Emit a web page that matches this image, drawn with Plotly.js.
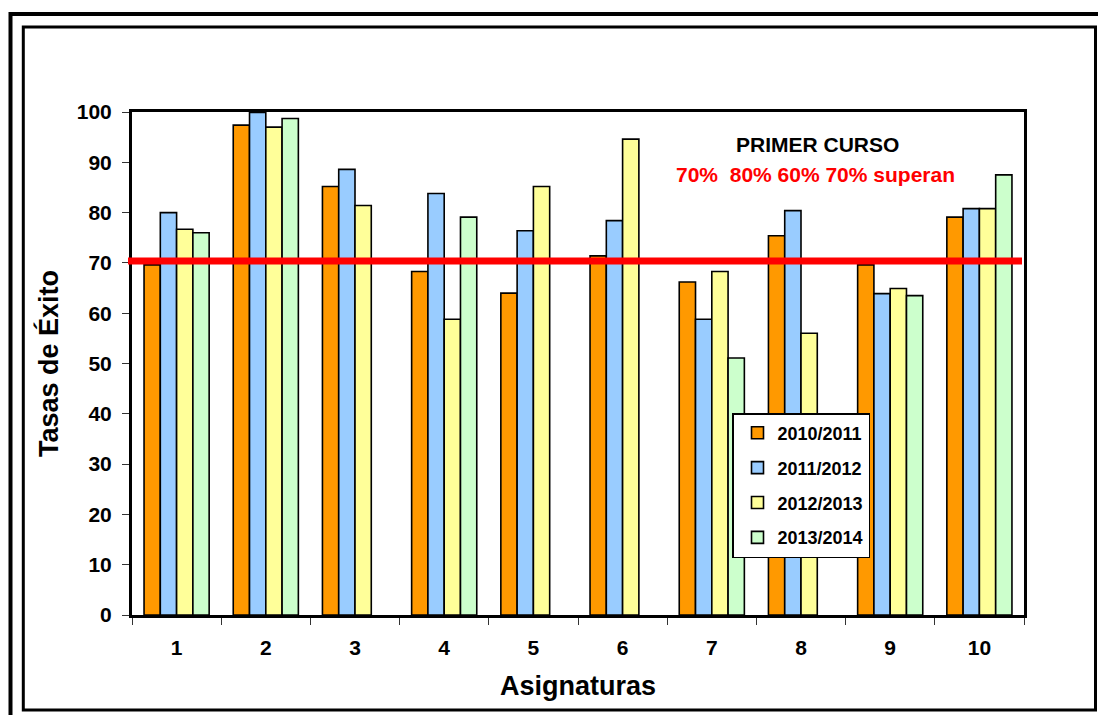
<!DOCTYPE html>
<html>
<head>
<meta charset="utf-8">
<script src="https://cdn.plot.ly/plotly-3.0.1.min.js"></script>
<style>
  html, body { margin: 0; padding: 0; background: #ffffff; }
  #chart { width: 1098px; height: 715px; }
</style>
</head>
<body>
<div id="chart"></div>
<script>
// Success rates per subject (first year), four academic years
const asignaturas = ['1', '2', '3', '4', '5', '6', '7', '8', '9', '10'];
const cursos = ['2010/2011', '2011/2012', '2012/2013', '2013/2014'];
const tasas2010 = [69.6, 97.4, 85.2, 68.3, 64.0, 71.4, 66.2, 75.4, 69.6, 79.1];
const tasas2011 = [80.0, 99.9, 88.6, 83.8, 76.4, 78.4, 58.8, 80.4, 63.9, 80.8];
const tasas2012 = [76.7, 97.0, 81.4, 58.8, 85.2, 94.6, 68.3, 56.0, 64.9, 80.8];
const tasas2013 = [76.0, 98.7, null, 79.1, null, null, 51.1, null, 63.5, 87.5];
const umbral = 70.4;
const colores = ['#FF9900', '#99CCFF', '#FFFF99', '#CCFFCC'];

const FONT = 'Liberation Sans, Arial, Helvetica, sans-serif';

const series = [tasas2010, tasas2011, tasas2012, tasas2013];
const traces = series.map((vals, i) => ({
  type: 'bar',
  name: cursos[i],
  legendgroup: cursos[i],
  x: asignaturas,
  y: vals,
  marker: { color: colores[i], line: { color: '#000000', width: 1.6 } },
  hoverinfo: 'x+y+name'
}));

// plot area: left 132, right 1024, top 112, bottom 615 (px)
const L = 132, R = 1024, T = 112, B = 615, W = 1098, H = 715;
const px = v => (v - L) / (R - L);
const py = v => (B - v) / (B - T);

const layout = {
  width: W,
  height: H,
  margin: { l: L, r: W - R, t: T, b: H - B, pad: 0 },
  paper_bgcolor: '#ffffff',
  plot_bgcolor: '#ffffff',
  font: { family: FONT, color: '#000000' },
  barmode: 'group',
  bargap: 0.27,
  bargroupgap: 0,
  showlegend: true,
  legend: {
    x: px(732), y: py(413), xanchor: 'left', yanchor: 'top',
    bgcolor: '#ffffff', bordercolor: '#000000', borderwidth: 1.5,
    font: { family: FONT, size: 18, color: '#000000', weight: 'bold' },
    traceorder: 'grouped', tracegroupgap: 8.5, indentation: 4
  },
  xaxis: {
    type: 'category',
    tickson: 'boundaries',
    ticks: 'outside', ticklen: 7, tickwidth: 1, tickcolor: '#333333',
    showline: true, linewidth: 3, linecolor: '#000000', mirror: true,
    showgrid: false, zeroline: false,
    ticklabelstandoff: 12,
    tickfont: { family: FONT, size: 21, color: '#000000', weight: 'bold' },
    title: { text: 'Asignaturas', standoff: 18,
             font: { family: FONT, size: 27, color: '#000000', weight: 'bold' } },
    automargin: false
  },
  yaxis: {
    range: [0, 100], dtick: 10, tick0: 0,
    ticks: 'outside', ticklen: 7, tickwidth: 1, tickcolor: '#333333',
    showline: true, linewidth: 3, linecolor: '#000000', mirror: true,
    showgrid: false, zeroline: false,
    ticklabelstandoff: 6,
    tickfont: { family: FONT, size: 21, color: '#000000', weight: 'bold' },
    title: { text: 'Tasas de Éxito', standoff: 11,
             font: { family: FONT, size: 27, color: '#000000', weight: 'bold' } },
    automargin: false
  },
  shapes: [
    // threshold line
    { type: 'line', xref: 'paper', yref: 'y', x0: px(128), x1: px(1022), y0: umbral, y1: umbral,
      line: { color: '#FF0000', width: 7 }, layer: 'above' },
    // outer frame
    { type: 'rect', xref: 'paper', yref: 'paper', x0: px(10.5), x1: px(1106), y0: py(14), y1: py(722),
      line: { color: '#000000', width: 4 }, fillcolor: 'rgba(0,0,0,0)', layer: 'above' },
    // inner frame
    { type: 'rect', xref: 'paper', yref: 'paper', x0: px(23.3), x1: px(1095.5), y0: py(27), y1: py(710),
      line: { color: '#000000', width: 3 }, fillcolor: 'rgba(0,0,0,0)', layer: 'above' }
  ],
  annotations: [
    { xref: 'paper', yref: 'paper', x: px(817), y: py(145), xanchor: 'center', yanchor: 'middle',
      text: 'PRIMER CURSO', showarrow: false,
      font: { family: FONT, size: 21, color: '#000000', weight: 'bold' } },
    { xref: 'paper', yref: 'paper', x: px(815), y: py(174), xanchor: 'center', yanchor: 'middle',
      text: '70%&nbsp;&nbsp;80% 60% 70% superan', showarrow: false,
      font: { family: FONT, size: 21, color: '#FF0000', weight: 'bold' } }
  ]
};

Plotly.newPlot('chart', traces, layout, { displayModeBar: false, staticPlot: true });
</script>
</body>
</html>
